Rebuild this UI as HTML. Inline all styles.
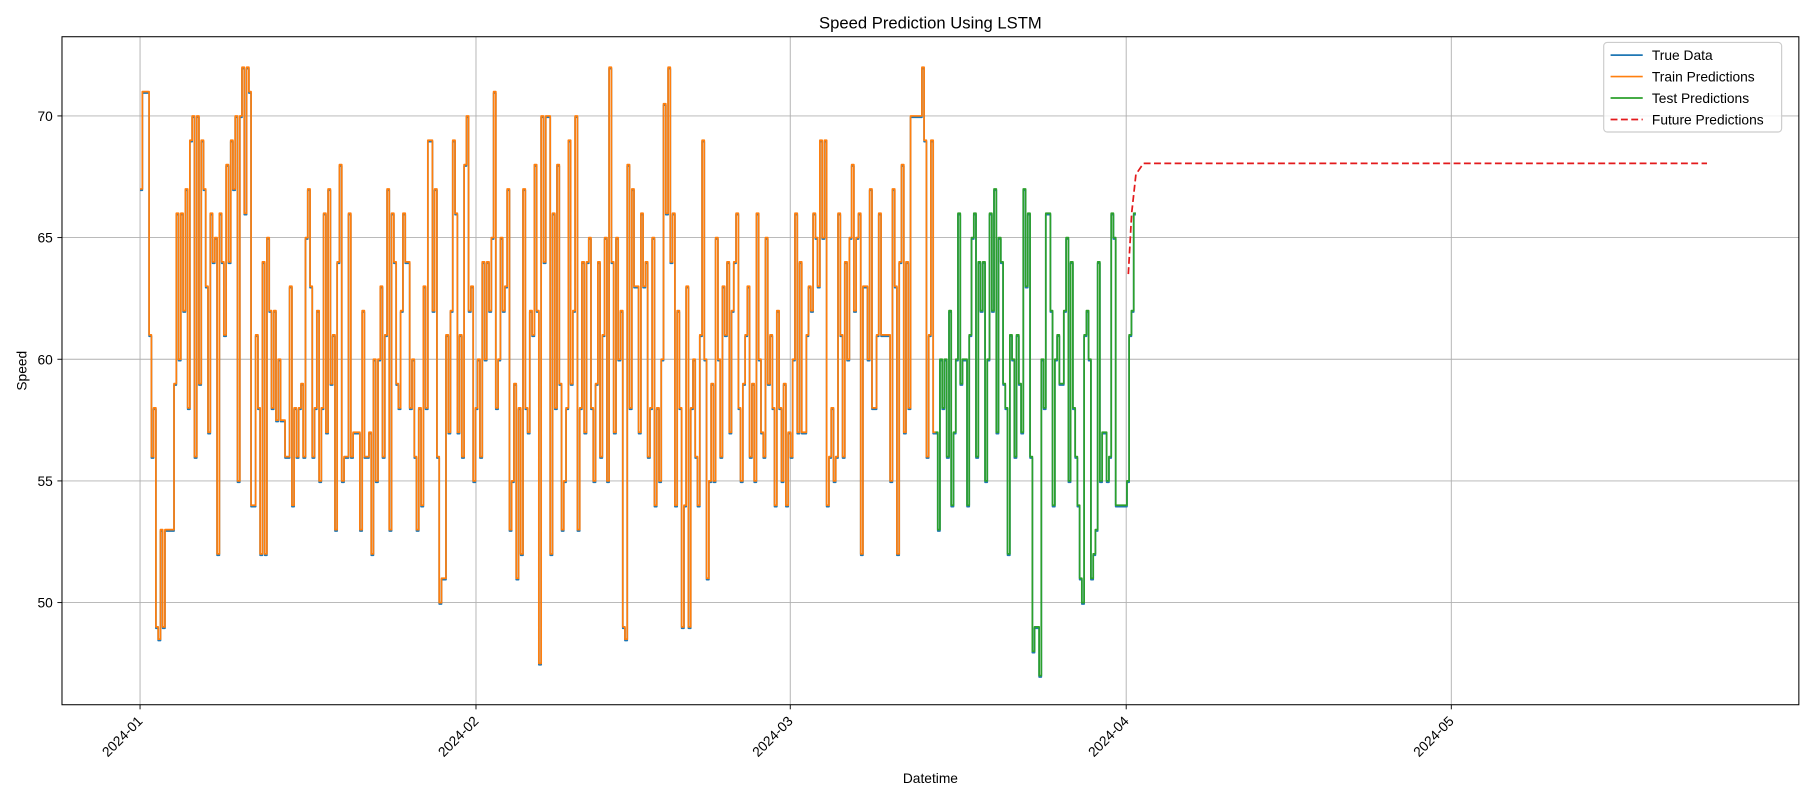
<!DOCTYPE html>
<html><head><meta charset="utf-8"><style>
html,body{margin:0;padding:0;background:#fff;}
svg{display:block;font-family:"Liberation Sans","DejaVu Sans",sans-serif;}
</style></head><body>
<svg id="chart" width="1800" height="800" viewBox="0 0 1568 697" preserveAspectRatio="none"></svg>
<script>
const yTicks=[50,55,60,65,70];
const xTickLabels=["2024-01","2024-02","2024-03","2024-04","2024-05"];
const xTickDays=[0,31,60,91,121];
const trainStartDay=0, trainEndDay=73.4;
const testStartDay=73.4, testEndDay=91.9;
const trainValues=[67,71,71,71,
61,56,58,49,48.5,53,49,53,53,
53,53,59,66,60,66,62,67,58,
69,70,56,70,59,69,67,63,
57,66,64,65,52,66,64,61,68,64,
69,67,70,55,70,72,66,72,71,54,
54,61,58,52,64,52,65,62,58,62,
57.5,60,57.5,57.5,56,56,63,54,58,56,
58,59,56,65,67,63,56,58,62,55,
58,66,57,67,59,61,53,64,68,55,
56,56,66,56,57,57,57,53,62,56,
56,57,52,60,55,60,63,56,61,67,
53,66,64,59,58,62,66,64,64,58,
60,56,53,58,54,63,58,69,69,62,
67,56,50,51,51,61,57,62,69,66,
57,61,56,68,70,62,63,55,58,60,
56,64,60,64,62,65,71,58,60,65,
62,63,67,53,55,59,51,58,52,67,
58,57,62,61,68,62,47.5,70,64,70,
70,52,66,58,68,59,53,55,58,69,
59,62,70,53,58,64,57,64,65,58,
55,59,64,56,61,65,55,72,64,57,
65,60,62,49,48.5,68,58,67,63,63,
57,66,63,64,56,58,65,54,58,55,
60,70.5,66,72,64,66,54,62,58,49,
54,63,49,58,60,56,54,61,69,60,
51,55,59,55,65,60,56,63,61,64,
57,62,64,66,58,55,59,61,63,56,
59,55,66,60,57,56,65,59,61,58,
54,62,58,55,59,54,57,56,60,66,
57,64,57,57,61,63,62,66,65,63,
69,65,69,54,56,58,55,56,66,61,
56,64,60,65,68,62,65,66,52,63,
63,60,67,58,58,61,66,61,61,61,
61,55,67,63,52,64,68,57,64,58,
70,70,70,70,70,72,69,56,61,69,57];
const testValues=[57,53,60,58,60,56,62,54,57,60,
66,59,60,60,54,61,65,66,56,64,
62,64,55,60,66,62,67,57,65,64,
59,58,52,61,60,56,61,59,57,67,
63,66,56,48,49,49,47,60,58,66,
66,62,54,60,61,59,59,62,65,55,
64,58,56,54,51,50,61,62,60,51,
52,53,64,55,57,57,55,56,66,65,
54,54,54,54,54,55,61,62,66];
const futureDays=[91.2,91.5,91.9,92.6,144.6];
const futureValues=[63.5,66,67.6,68.05,68.05];

const L=54,R=1567,T=32,B=614;
const xs=d=>122+d*9.44;
const ys=v=>525-(v-50)*21.2;
const svg=document.getElementById('chart');
const NS='http://www.w3.org/2000/svg';
function mk(tag,attrs,parent){const e=document.createElementNS(NS,tag);for(const k in attrs)e.setAttribute(k,attrs[k]);(parent||svg).appendChild(e);return e;}

yTicks.forEach(v=>{
  const g=mk('line',{x1:L,x2:R,y1:ys(v),y2:ys(v),stroke:'#b0b0b0','stroke-width':0.8});
  
  
  mk('line',{x1:L-4,x2:L,y1:ys(v),y2:ys(v),stroke:'#000','stroke-width':0.8});
  const t=mk('text',{x:L-8,y:ys(v)+4.5,'text-anchor':'end','font-size':12});
  t.textContent=v;
  
  
});
xTickDays.forEach((d,i)=>{
  const x=xs(d);
  const g=mk('line',{x1:x,x2:x,y1:T,y2:B,stroke:'#b0b0b0','stroke-width':0.8});
  
  
  mk('line',{x1:x,x2:x,y1:B,y2:B+4,stroke:'#000','stroke-width':0.8});
  const t=mk('text',{x:x+3,y:B+15,'text-anchor':'end','font-size':12,transform:`rotate(-45 ${x+3} ${B+15})`});
  t.textContent=xTickLabels[i];
  
  
});

function stepPath(vals,d0,d1){
  const step=(d1-d0)/vals.length;let p='';
  vals.forEach((v,i)=>{const xa=xs(d0+i*step),xb=xs(d0+(i+1)*step),y=ys(v);
    p+=(i===0?'M':'L')+xa.toFixed(1)+','+y.toFixed(1)+'L'+xb.toFixed(1)+','+y.toFixed(1);});
  return p;
}
function series(d,color,name,extra){
  const p=mk('path',Object.assign({d:d,fill:'none',stroke:color,'stroke-width':1.5,'stroke-linejoin':'round'},extra||{}));
  
  
}
series(stepPath(trainValues,trainStartDay,trainEndDay)+stepPath(testValues,testStartDay,testEndDay).replace(/^M/,'L'),'#1f77b4','true-data-line',{transform:'translate(0,1.2)'});
series(stepPath(trainValues,trainStartDay,trainEndDay),'#ff7f0e','train-predictions-line');
series(stepPath(testValues,testStartDay,testEndDay),'#2ca02c','test-predictions-line');
series(futureDays.map((d,i)=>(i?'L':'M')+xs(d).toFixed(1)+','+ys(futureValues[i]).toFixed(1)).join(''),'#e31a1c','future-predictions-line',{'stroke-dasharray':'6,3'});

const frame=mk('rect',{x:L,y:T,width:R-L,height:B-T,fill:'none',stroke:'#000','stroke-width':0.9});



const title=mk('text',{x:(L+R)/2,y:25,'text-anchor':'middle','font-size':14.5});
title.textContent='Speed Prediction Using LSTM';


const xl=mk('text',{x:(L+R)/2,y:682,'text-anchor':'middle','font-size':12});
xl.textContent='Datetime';


const yl=mk('text',{x:23,y:(T+B)/2,'text-anchor':'middle','font-size':12,transform:`rotate(-90 23 ${(T+B)/2})`});
yl.textContent='Speed';



const lg=mk('g',{});


mk('rect',{x:1397,y:37,width:155,height:78,rx:3,fill:'#fff','fill-opacity':0.8,stroke:'#ccc'},lg);
const legendNames=['True Data','Train Predictions','Test Predictions','Future Predictions'];
const legendColors=['#1f77b4','#ff7f0e','#2ca02c','#e31a1c'];
legendNames.forEach((n,i)=>{
  const y=48+i*18.7;
  const ln=mk('line',{x1:1403,x2:1431,y1:y,y2:y,stroke:legendColors[i],'stroke-width':1.5},lg);
  if(i===3)ln.setAttribute('stroke-dasharray','6,3');
  const t=mk('text',{x:1439,y:y+4.5,'font-size':12},lg);
  t.textContent=n;
  
  
});
</script>
</body></html>
